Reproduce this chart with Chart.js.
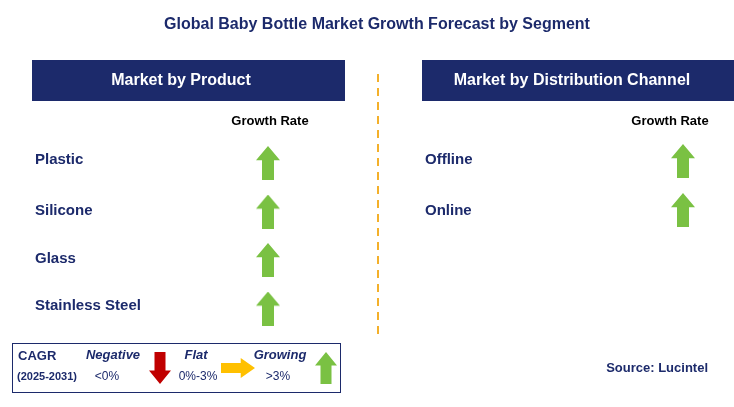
<!DOCTYPE html>
<html><head><meta charset="utf-8">
<script src="https://cdn.jsdelivr.net/npm/chart.js@4/dist/chart.umd.min.js"></script>
<style>html,body{margin:0;padding:0;background:#fff}canvas{display:block}</style>
</head><body>
<canvas id="c" width="734" height="407"></canvas>
<script>
const title = "Global Baby Bottle Market Growth Forecast by Segment";
const productCategories = ["Plastic", "Silicone", "Glass", "Stainless Steel"];
const productGrowth = ["up", "up", "up", "up"];
const channelCategories = ["Offline", "Online"];
const channelGrowth = ["up", "up"];
const legendLabels = ["Negative", "Flat", "Growing"];
const legendRanges = ["<0%", "0%-3%", ">3%"];
const source = "Source: Lucintel";

const NAVY = "#1c2a6b", GREEN = "#7ac143", RED = "#c00000", YEL = "#ffc000";
function arrowImg(dir, color, w, h) {
  const c = document.createElement("canvas"); c.width = w; c.height = h;
  const g = c.getContext("2d"); g.fillStyle = color; g.beginPath();
  if (dir === "up") {
    const hh = h * 0.42, sw = w * 0.5;
    g.moveTo(w/2, 0); g.lineTo(w, hh); g.lineTo(w/2 + sw/2, hh); g.lineTo(w/2 + sw/2, h);
    g.lineTo(w/2 - sw/2, h); g.lineTo(w/2 - sw/2, hh); g.lineTo(0, hh);
  } else if (dir === "down") {
    const hh = h * 0.42, sw = w * 0.5;
    g.moveTo(w/2, h); g.lineTo(w, h - hh); g.lineTo(w/2 + sw/2, h - hh); g.lineTo(w/2 + sw/2, 0);
    g.lineTo(w/2 - sw/2, 0); g.lineTo(w/2 - sw/2, h - hh); g.lineTo(0, h - hh);
  } else {
    const hw = w * 0.42, sh = h * 0.5;
    g.moveTo(w, h/2); g.lineTo(w - hw, 0); g.lineTo(w - hw, h/2 - sh/2); g.lineTo(0, h/2 - sh/2);
    g.lineTo(0, h/2 + sh/2); g.lineTo(w - hw, h/2 + sh/2); g.lineTo(w - hw, h);
  }
  g.closePath(); g.fill(); return c;
}
const imgs = { up: arrowImg("up", GREEN, 24, 34), down: arrowImg("down", RED, 22, 32), right: arrowImg("right", YEL, 34, 20), legUp: arrowImg("up", GREEN, 22, 32) };

const prodPts = productCategories.map((c, i) => ({ x: 268, y: 163 + i * 48.5 }));
const chanPts = channelCategories.map((c, i) => ({ x: 683, y: 161 + i * 49 }));
const legPts = [{ x: 160, y: 368 }, { x: 238, y: 368 }, { x: 326, y: 368 }];

const F = "Arial, 'Liberation Sans'";
const textPlugin = {
  id: "txt",
  beforeDatasetsDraw(chart) {
    const g = chart.ctx;
    g.save(); g.textBaseline = "middle";
    g.fillStyle = NAVY; g.font = "bold 16px " + F; g.textAlign = "center";
    g.fillText(title, 377, 25);
    g.fillRect(32, 60, 313, 41); g.fillRect(422, 60, 313, 41);
    g.fillStyle = "#fff"; g.font = "bold 16px " + F;
    g.fillText("Market by Product", 181, 81); g.fillText("Market by Distribution Channel", 572, 81);
    g.strokeStyle = "#f4b02a"; g.lineWidth = 2; g.setLineDash([8, 6]);
    g.beginPath(); g.moveTo(378, 74); g.lineTo(378, 336); g.stroke(); g.setLineDash([]);
    g.fillStyle = "#000"; g.font = "bold 13px " + F;
    g.fillText("Growth Rate", 270, 121); g.fillText("Growth Rate", 670, 121);
    g.textAlign = "left"; g.fillStyle = NAVY; g.font = "bold 15px " + F;
    const py = [160, 211, 259, 306];
    productCategories.forEach((c, i) => g.fillText(c, 35, py[i]));
    channelCategories.forEach((c, i) => g.fillText(c, 425, [160, 211][i]));
    g.font = "bold 13px " + F; g.textAlign = "right";
    g.fillText(source, 708, 368);
    g.strokeStyle = NAVY; g.lineWidth = 1; g.strokeRect(12.5, 343.5, 328, 49);
    g.textAlign = "left"; g.font = "bold 13px " + F; g.fillText("CAGR", 18, 356);
    g.font = "bold 11px " + F; g.fillText("(2025-2031)", 17, 377);
    g.textAlign = "center"; g.font = "italic bold 13px " + F;
    const lx = [113, 196, 280], rx = [107, 198, 278];
    legendLabels.forEach((l, i) => g.fillText(l, lx[i], 355));
    g.font = "12px " + F;
    legendRanges.forEach((l, i) => g.fillText(l, rx[i], 377));
    g.restore();
  }
};

const chart = new Chart(document.getElementById("c"), {
  type: "scatter",
  data: { datasets: [
    { data: prodPts, pointStyle: productGrowth.map(d => imgs[d]) },
    { data: chanPts, pointStyle: channelGrowth.map(d => imgs[d]) },
    { data: legPts, pointStyle: [imgs.down, imgs.right, imgs.legUp] }
  ]},
  options: {
    responsive: false, animation: false, events: [],
    layout: { padding: 0 },
    plugins: { legend: { display: false }, tooltip: { enabled: false } },
    scales: { x: { display: false, min: 0, max: 734 }, y: { display: false, min: 0, max: 407, reverse: true } }
  },
  plugins: [textPlugin]
});
const ca = chart.chartArea;
chart.options.scales.x.min = ca.left; chart.options.scales.x.max = ca.right;
chart.options.scales.y.min = ca.top; chart.options.scales.y.max = ca.bottom;
chart.update();
</script>
</body></html>
